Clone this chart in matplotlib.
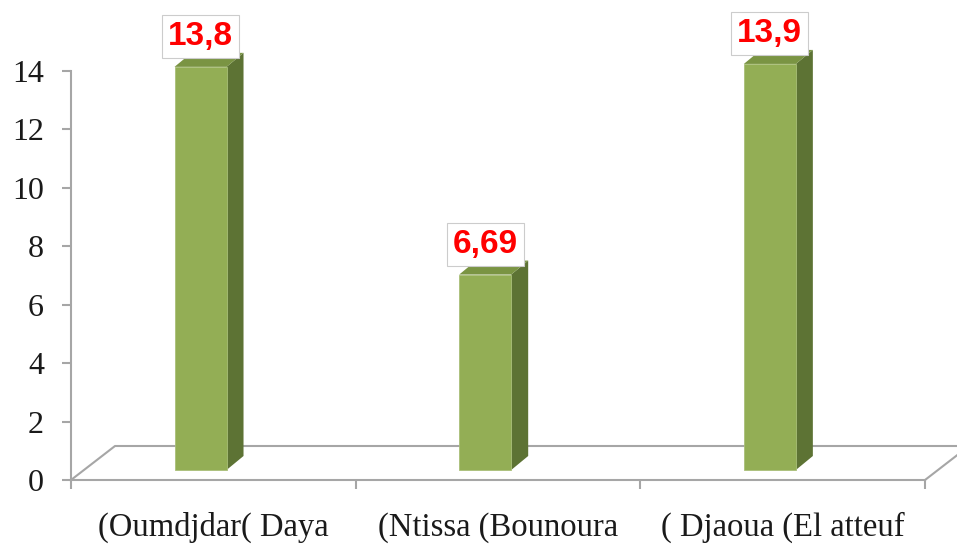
import matplotlib.pyplot as plt
from matplotlib.patches import Polygon

# data
categories = ["(Oumdjdar( Daya", "(Ntissa (Bounoura", "( Djaoua (El atteuf"]
values = [13.8, 6.69, 13.9]
value_labels = ["13,8", "6,69", "13,9"]

front_col = "#93ae55"
side_col = "#5d7334"
top_col = "#7a9443"
line_col = "#a6a6a6"

fig = plt.figure(figsize=(9.57, 5.44), dpi=100)
ax = fig.add_axes([71 / 957, 64 / 544, 854 / 957, 409 / 544])
ax.set_xlim(0, 3)
ax.set_ylim(0, 14)

# pixel -> data unit helpers (fake 3D depth)
px_x = ax.bbox.width / 3.0
px_y = ax.bbox.height / 14.0

def dx(p):
    return p / px_x

def dy(p):
    return p / px_y

# floor outline
fdx, fdy = dx(44), dy(34)
ax.plot([0, fdx, 3 + fdx], [0, fdy, fdy], color=line_col, lw=1.5, clip_on=False, zorder=1)
ax.plot([3, 3 + fdx], [0, fdy], color=line_col, lw=1.5, clip_on=False, zorder=1)

# bars
bw = dx(52)
sdx, sdy = dx(17), dy(14)
base = dy(10)
for i, v in enumerate(values):
    c = i + 0.455
    l, r = c - bw / 2, c + bw / 2
    b, t = base, base + v
    ax.add_patch(Polygon([(r, b), (r + sdx, b + sdy), (r + sdx, t + sdy), (r, t)],
                         closed=True, fc=side_col, ec="none", zorder=3, clip_on=False))
    ax.add_patch(Polygon([(l, t), (l + sdx, t + sdy), (r + sdx, t + sdy), (r, t)],
                         closed=True, fc=top_col, ec="none", zorder=3, clip_on=False))
    ax.add_patch(Polygon([(l, b), (r, b), (r, t), (l, t)],
                         closed=True, fc=front_col, ec="#a9bf78", lw=0.6, zorder=4, clip_on=False))
    ax.annotate(value_labels[i], xy=(c, t), xytext=(0, 22), textcoords="offset points",
                ha="center", va="center", fontsize=24, fontweight="bold", color="red",
                family="Liberation Sans", zorder=6, annotation_clip=False,
                bbox=dict(boxstyle="square,pad=0.18", fc="white", ec="#cccccc", lw=0.8))

# axes styling
for s in ["top", "right"]:
    ax.spines[s].set_visible(False)
for s in ["left", "bottom"]:
    ax.spines[s].set_color(line_col)
    ax.spines[s].set_linewidth(1.5)

ax.set_yticks(range(0, 15, 2))
ax.tick_params(axis="y", direction="out", length=6.5, width=1.5, color=line_col,
               pad=13, labelsize=23)
ax.set_xticks([0, 1, 2, 3])
ax.set_xticklabels([])
ax.tick_params(axis="x", which="major", direction="out", length=6.5, width=1.5, color=line_col)
ax.set_xticks([0.5, 1.5, 2.5], minor=True)
ax.set_xticklabels(categories, minor=True)
ax.tick_params(axis="x", which="minor", length=0, pad=23, labelsize=23.5)
for lab in ax.get_yticklabels() + ax.get_xticklabels(minor=True):
    lab.set_family("Liberation Serif")
    lab.set_color("#1a1a1a")

fig.savefig("out.png", dpi=100)
